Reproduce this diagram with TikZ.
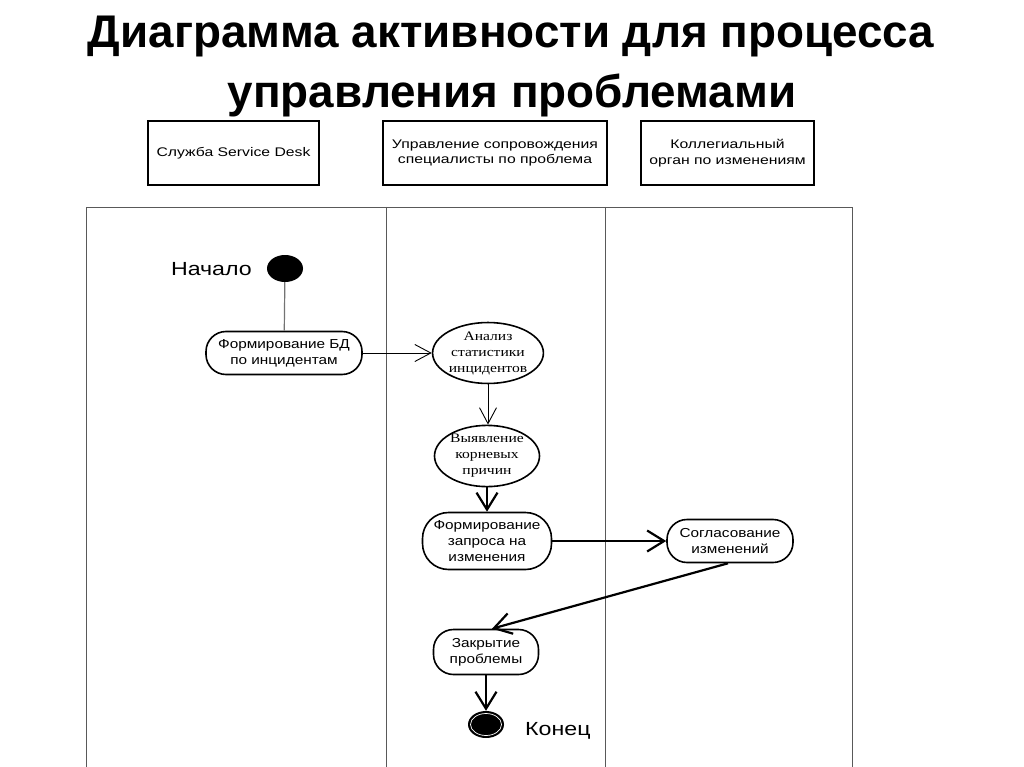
\documentclass[tikz,border=0pt]{standalone}
\usepackage{fontspec}
\setmainfont{Liberation Sans}
\newfontfamily\serifcyr{Liberation Serif}[FakeStretch=1.2]
\newfontfamily\hdrfont{Liberation Sans}[FakeStretch=1.26]
\newfontfamily\actfont{Liberation Sans}[FakeStretch=1.18]
\newfontfamily\lblfont{Liberation Sans}[FakeStretch=1.22]
\usetikzlibrary{arrows.meta,shapes.geometric}
\begin{document}
\begin{tikzpicture}[x=1pt,y=-1pt,
  lane/.style={draw=black!65,line width=0.9pt},
  hdr/.style={draw,line width=1.5pt,minimum width=#1,minimum height=64pt,align=center,font=\hdrfont\fontsize{12.5}{15.5}\selectfont,inner sep=0pt},
  act/.style={draw,line width=1.6pt,rounded corners=20pt,align=center,font=\actfont\fontsize{13}{16}\selectfont,inner sep=2pt},
  sact/.style={draw,line width=1.6pt,ellipse,align=center,font=\serifcyr\fontsize{13}{16}\selectfont,inner sep=0pt},
  thin/.style={line width=0.9pt,-{Straight Barb[length=16pt,width=17pt,line width=0.9pt]}},
  thick/.style={line width=2.2pt,-{Straight Barb[length=17pt,width=21pt,line width=2.2pt]}},
  lbl/.style={font=\lblfont\fontsize{19}{22}\selectfont,inner sep=0pt},
  ttl/.style={font=\bfseries\fontsize{45.8}{50}\selectfont,inner sep=0pt,anchor=base}
]
\useasboundingbox[fill=white] (0,0) rectangle (1024,767);
% title
\node[ttl] (t1) at (511,48) {Диаграмма активности для процесса};
\node[ttl] (t2) at (512,108) {управления проблемами};
% headers
\node[hdr=171pt] (h1) at (233.5,153) {Служба Service Desk};
\node[hdr=224pt] (h2) at (495,153) {Управление сопровождения\\специалисты по проблема};
\node[hdr=173pt] (h3) at (727.5,153) {Коллегиальный\\орган по изменениям};
% swimlanes
\draw[lane] (86,767) -- (86,207) -- (852,207) -- (852,767);
\draw[lane] (386,207) -- (386,767);
\draw[lane] (605,207) -- (605,767);
% start
\node[ellipse,fill=black,minimum width=36pt,minimum height=27pt,inner sep=0pt] (start) at (285,268.5) {};
\node[lbl,anchor=east] (lstart) at (252,269) {Начало};
% activities
\node[act,minimum width=156pt,minimum height=43pt] (a1) at (284,353) {Формирование БД\\по инцидентам};
\node[sact,minimum width=104pt,minimum height=53pt] (a2) at (488,353) {Анализ\\статистики\\инцидентов};
\node[sact,minimum width=105pt,minimum height=56pt] (a3) at (487,456) {Выявление\\корневых\\причин};
\node[act,minimum width=129pt,minimum height=57pt,rounded corners=26pt] (a4) at (487,541) {Формирование\\запроса на\\изменения};
\node[act,minimum width=126pt,minimum height=43pt] (a5) at (730,541) {Согласование\\изменений};
\node[act,minimum width=105pt,minimum height=45pt] (a6) at (486,652) {Закрытие\\проблемы};
% end
\node[ellipse,fill=black,minimum width=36pt,minimum height=27pt,inner sep=0pt] (end) at (486,724.5) {};
\node[ellipse,draw=white,line width=0.7pt,minimum width=31pt,minimum height=22pt,inner sep=0pt] (endin) at (486,724.5) {};
\node[lbl,anchor=west] (lend) at (525,731) {Конец};
% connectors
\draw[line width=1.2pt,black!55] (start) -- (a1);
\draw[thin] (a1) -- (a2);
\draw[thin] (a2) -- (a2 |- a3.north);
\draw[thick] (a3) -- (a3 |- a4.north);
\draw[thick] (a4) -- (a5);
\coordinate (c5) at ([xshift=-2pt]a5.south);
\draw[thick] (c5) -- ([xshift=6pt]a6.north);
\draw[thick] (a6) -- (end);
\end{tikzpicture}
\end{document}
